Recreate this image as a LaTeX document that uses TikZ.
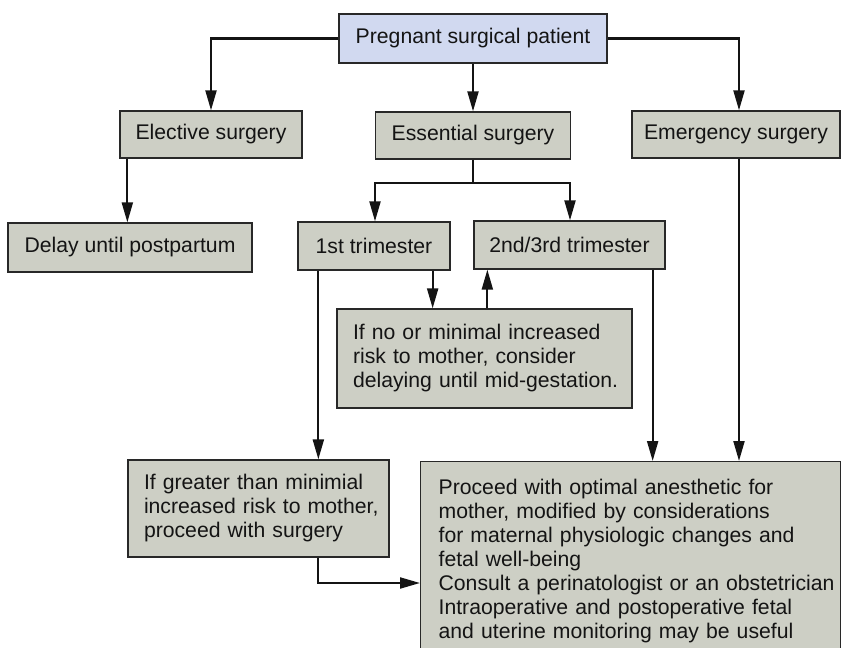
\documentclass[tikz,border=0pt]{standalone}
\usepackage{fontspec}
\setmainfont{Liberation Sans}
\usetikzlibrary{arrows.meta,calc}

\definecolor{topfill}{RGB}{209,217,240}
\definecolor{boxfill}{RGB}{205,207,197}
\definecolor{boxline}{RGB}{40,40,40}
\definecolor{ink}{RGB}{20,20,20}

\tikzset{
  box/.style={draw=boxline, line width=1.3pt, fill=boxfill, text=ink,
    inner sep=0pt, font=\fontsize{21.2}{24}\selectfont},
  topbox/.style={box, fill=topfill},
  textbox/.style={box, align=left, inner xsep=16pt},
  arr/.style={draw=ink, line width=2.1pt, -{Triangle[length=20pt,width=11pt]}},
  link/.style={draw=ink, line width=2.1pt},
}

\begin{document}
\begin{tikzpicture}[x=1pt,y=-1pt]
  \useasboundingbox (0,0) rectangle (841,648);
  \clip (0,0) rectangle (841,648);

  % first level
  \node[topbox, minimum width=268pt, minimum height=49pt] (top) at (473,38.5) {Pregnant surgical patient};
  \node[box, minimum width=182pt, minimum height=47pt] (elective) at (211,134.5) {Elective surgery};
  \node[box, minimum width=195pt, minimum height=47pt] (essential) at (473,135.5) {Essential surgery};
  \node[box, minimum width=208pt, minimum height=47pt] (emergency) at (736,134.5) {Emergency surgery};

  % second level
  \node[box, minimum width=244pt, minimum height=49pt] (delay) at (130,247.5) {Delay until postpartum};
  \node[box, minimum width=152pt, minimum height=48pt] (first) at (374,246) {1st trimester};
  \node[box, minimum width=191pt, minimum height=48pt] (second) at (569.5,245) {2nd/3rd trimester};

  % decision text boxes
  \node[textbox, text width=263pt, minimum height=99pt] (ifno) at (484.5,358.5)
    {\mbox{If no or minimal increased}\\\mbox{risk to mother, consider}\\\mbox{delaying until mid-gestation.}};
  \node[textbox, text width=229pt, minimum height=97pt] (ifgreater) at (258.5,508.5)
    {\mbox{If greater than minimial}\\\mbox{increased risk to mother,}\\\mbox{proceed with surgery}};
  \node[textbox, anchor=north west, inner xsep=18pt, inner ysep=17.8pt, text width=384pt] (big) at (420,461)
    {\mbox{Proceed with optimal anesthetic for}\\
     \mbox{mother, modified by considerations}\\
     \mbox{for maternal physiologic changes and}\\
     \mbox{fetal well-being}\\
     \mbox{Consult a perinatologist or an obstetrician}\\
     \mbox{Intraoperative and postoperative fetal}\\
     \mbox{and uterine monitoring may be useful}};

  % connectors from the patient box
  \draw[arr] (top.west) -| (elective.north);
  \draw[arr] (top.south) -- (essential.north);
  \draw[arr] (top.east) -| ([xshift=3pt]emergency.north);

  % essential surgery splits by trimester
  \coordinate (split) at ($(essential.south)+(0,23)$);
  \draw[link] (essential.south) -- (split);
  \draw[arr] (split) -| ([xshift=1pt]first.north);
  \draw[arr] (split) -| ([xshift=0.5pt]second.north);

  % elective surgery
  \draw[arr] ([xshift=8pt]elective.south west) -- ([xshift=8pt]elective.south west |- delay.north);

  % first trimester
  \draw[arr] ([xshift=21pt]first.south west) -- ([xshift=21pt]first.south west |- ifgreater.north);
  \draw[arr] ([xshift=-18pt]first.south east) -- ([xshift=-18pt]first.south east |- ifno.north);
  \draw[arr] ([xshift=14pt]second.south west |- ifno.north) -- ([xshift=14pt]second.south west);

  % into the management box
  \draw[arr] ([xshift=-13pt]second.south east) -- ([xshift=-13pt]second.south east |- big.north);
  \draw[arr] ([xshift=3pt]emergency.south) -- ([xshift=3pt]emergency.south |- big.north);
  \draw[arr] ([xshift=191pt]ifgreater.south west) |- ([yshift=-122pt]big.north west);
\end{tikzpicture}
\end{document}
